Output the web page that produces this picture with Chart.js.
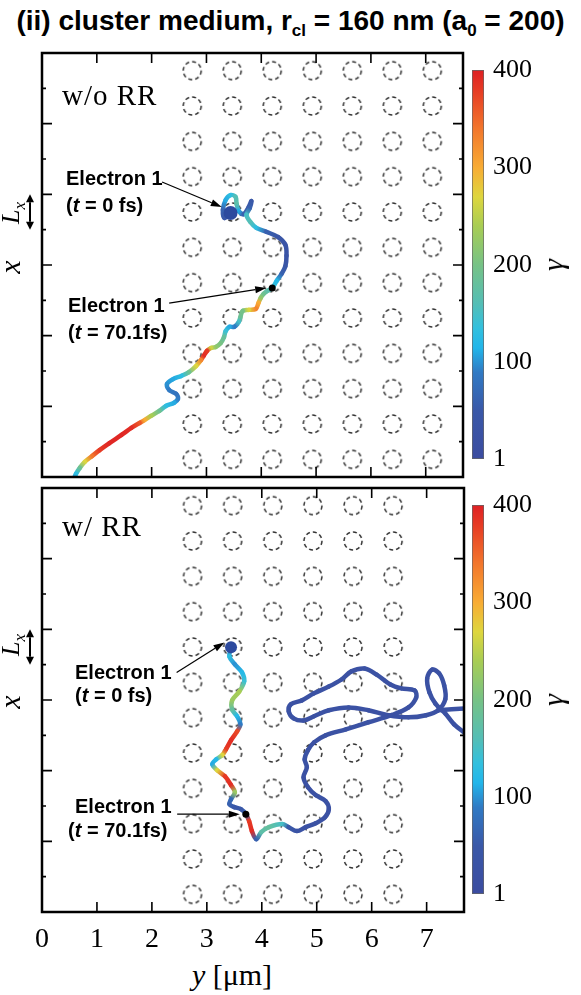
<!DOCTYPE html>
<html lang="en">
<head>
<meta charset="UTF-8">
<title>cluster medium - electron trajectories</title>
<style>
    body { margin: 0; background: #fff; }
    #wrap { position: relative; width: 581px; height: 995px; overflow: hidden; font-family: "Liberation Serif", "Times New Roman", serif; color: #000; }
    canvas { position: absolute; }
    .t { position: absolute; white-space: nowrap; line-height: 1; }
    .title { font-family: "Liberation Sans", Arial, sans-serif; font-weight: bold; font-size: 28px; left: 0; width: 581px; text-align: center; top: 7px; }
    .title sub { font-size: 17px; vertical-align: -6px; line-height: 0; }
    .lbl { font-family: "Liberation Sans", Arial, sans-serif; font-weight: bold; font-size: 20px; }
    .case { font-size: 29px; letter-spacing: 1px; }
    .rot { transform: translate(-50%, -50%) rotate(-90deg); }
    .ax { font-size: 30px; }
</style>
</head>
<body>
<div id="wrap">
    <div class="t title">(ii) cluster medium, r<sub>cl</sub> = 160 nm (a<sub>0</sub> = 200)</div>

    <canvas id="topPanel" width="470" height="450" style="left:0;top:40px"></canvas>
    <canvas id="topBar" width="115" height="450" style="left:466px;top:40px"></canvas>
    <canvas id="botPanel" width="470" height="480" style="left:0;top:475px"></canvas>
    <canvas id="botBar" width="115" height="450" style="left:466px;top:475px"></canvas>

    <div class="t case" style="left:62px;top:81px">w/o RR</div>
    <div class="t case" style="left:62px;top:512px">w/ RR</div>

    <div class="t lbl" style="left:66px;top:168px">Electron 1</div>
    <div class="t lbl" style="left:66px;top:195px">(<i>t</i> = 0 fs)</div>
    <div class="t lbl" style="left:68px;top:295px">Electron 1</div>
    <div class="t lbl" style="left:68px;top:322px">(<i>t</i> = 70.1fs)</div>
    <div class="t lbl" style="left:75px;top:662px">Electron 1</div>
    <div class="t lbl" style="left:75px;top:685px">(<i>t</i> = 0 fs)</div>
    <div class="t lbl" style="left:75px;top:796px">Electron 1</div>
    <div class="t lbl" style="left:68px;top:820px">(<i>t</i> = 70.1fs)</div>

    <div class="t ax rot" style="left:10px;top:267px"><i>x</i></div>
    <div class="t rot" style="left:13px;top:213px;font-size:26px"><i>L<sub style="font-size:17px">x</sub></i></div>
    <div class="t ax rot" style="left:10px;top:702px"><i>x</i></div>
    <div class="t rot" style="left:13px;top:645px;font-size:26px"><i>L<sub style="font-size:17px">x</sub></i></div>

    <div class="t ax rot" style="left:553px;top:265px"><i>γ</i></div>
    <div class="t ax rot" style="left:553px;top:700px"><i>γ</i></div>

    <div class="t ax" style="left:232px;top:960px;transform:translateX(-50%)"><i>y</i> [μm]</div>
</div>

<script src="https://cdn.jsdelivr.net/npm/chart.js@4"></script>
<script>
// axes: horizontal y in um, vertical x in units of L_x
const yRange = [0, 7.68];
const xRange = [0, 12];
const yTickVals = [0, 1, 2, 3, 4, 5, 6, 7];
const xTickVals = [1, 2, 3, 4, 5, 6, 7, 8, 9, 10, 11];

// cluster lattice (centres)
const clusterCols = [2.74, 3.47, 4.20, 4.93, 5.66, 6.39, 7.12];
const clusterRows = [0.5, 1.5, 2.5, 3.5, 4.5, 5.5, 6.5, 7.5, 8.5, 9.5, 10.5, 11.5];

// w/o RR trajectory
const topTrajY = [
    3.44, 3.33, 3.30, 3.35, 3.44, 3.53, 3.55, 3.59, 3.68, 3.77,
    3.82, 3.79, 3.73, 3.80, 3.91, 4.09, 4.31, 4.44, 4.46, 4.44,
    4.37, 4.28, 4.20, 4.11, 4.04, 3.99, 3.95, 3.90, 3.77, 3.66,
    3.62, 3.59, 3.51, 3.42, 3.35, 3.32, 3.26, 3.17, 3.08, 3.01,
    2.95, 2.90, 2.81, 2.68, 2.54, 2.39, 2.28, 2.32, 2.45, 2.48,
    2.41, 2.26, 2.14, 1.99, 1.87, 1.78, 1.63, 1.45, 1.23, 1.05,
    0.91, 0.78, 0.69, 0.62, 0.58
];
const topTrajX = [
    7.47, 7.33, 7.56, 7.84, 7.98, 7.93, 7.73, 7.53, 7.44, 7.64,
    7.81, 7.61, 7.42, 7.22, 7.05, 6.94, 6.79, 6.57, 6.26, 5.97,
    5.75, 5.55, 5.35, 5.27, 5.18, 5.07, 4.93, 4.76, 4.73, 4.70,
    4.53, 4.39, 4.25, 4.25, 4.13, 3.96, 3.79, 3.68, 3.65, 3.57,
    3.43, 3.31, 3.14, 2.97, 2.86, 2.77, 2.63, 2.46, 2.35, 2.21,
    2.10, 2.01, 1.87, 1.73, 1.61, 1.53, 1.39, 1.19, 0.96, 0.76,
    0.59, 0.43, 0.26, 0.09, -0.05
];
const topGamma = [
    40, 50, 60, 110, 130, 160, 170, 110, 60, 50,
    50, 60, 150, 160, 130, 60, 40, 35, 35, 40,
    60, 120, 140, 170, 190, 220, 300, 330, 270, 200,
    190, 150, 90, 110, 140, 180, 200, 220, 260, 380,
    390, 330, 270, 190, 130, 110, 100, 90, 80, 90,
    110, 130, 190, 240, 300, 360, 390, 395, 395, 380,
    340, 270, 190, 130, 100
];

// w/ RR trajectory
const botTrajY = [
    3.44, 3.41, 3.51, 3.64, 3.68, 3.59, 3.46, 3.46, 3.55, 3.61,
    3.55, 3.44, 3.35, 3.28, 3.17, 3.10, 3.19, 3.33, 3.44, 3.51,
    3.44, 3.41, 3.50, 3.62, 3.71, 3.77, 3.82, 3.90, 3.99, 4.13,
    4.37, 4.49, 4.64, 4.80, 4.98, 5.15, 5.22, 5.16, 4.98, 4.84,
    4.76, 4.82, 4.78, 4.84, 4.95, 5.16, 5.53, 5.94, 6.36, 6.67,
    6.81, 6.78, 6.54, 6.34, 6.09, 5.87, 5.63, 5.45, 5.22, 4.95,
    4.73, 4.53, 4.49, 4.58, 4.76, 4.95, 5.22, 5.58, 5.94, 6.30,
    6.67, 6.99, 7.21, 7.34, 7.32, 7.23, 7.10, 7.01, 7.05, 7.16,
    7.34, 7.50, 7.70
];
const botTrajX = [
    7.49, 7.23, 7.01, 6.78, 6.53, 6.24, 5.99, 5.73, 5.54, 5.31,
    5.11, 4.86, 4.61, 4.44, 4.32, 4.18, 4.01, 3.84, 3.59, 3.39,
    3.19, 3.05, 2.97, 2.91, 2.77, 2.57, 2.29, 2.06, 2.26, 2.40,
    2.49, 2.40, 2.29, 2.40, 2.51, 2.68, 2.91, 3.14, 3.31, 3.53,
    3.81, 4.10, 4.32, 4.58, 4.80, 5.00, 5.17, 5.37, 5.57, 5.79,
    6.07, 6.27, 6.33, 6.44, 6.72, 6.89, 6.81, 6.58, 6.38, 6.19,
    5.99, 5.88, 5.68, 5.48, 5.42, 5.54, 5.71, 5.79, 5.71, 5.57,
    5.51, 5.57, 5.71, 6.02, 6.41, 6.75, 6.86, 6.61, 6.22, 5.90,
    5.62, 5.31, 5.06
];
const botGamma = [
    40, 130, 100, 120, 140, 240, 230, 180, 120, 90,
    370, 390, 380, 270, 120, 110, 270, 380, 390, 230,
    70, 60, 50, 50, 60, 380, 390, 60, 170, 180,
    150, 50, 30, 25, 25, 22, 22, 25, 25, 22,
    22, 25, 28, 25, 22, 22, 25, 25, 22, 22,
    25, 25, 22, 22, 25, 25, 22, 22, 25, 25,
    22, 22, 25, 25, 22, 22, 25, 25, 22, 22,
    25, 25, 22, 22, 25, 25, 22, 22, 25, 25,
    22, 22, 25
];
const botBranchY = [7.21, 7.70];
const botBranchX = [5.71, 5.76];
const botBranchGamma = [25, 25];

// electron 1 markers [y, x]
const topStart = [3.44, 7.47];
const topAt70 = [4.20, 5.35];
const botStart = [3.44, 7.49];
const botAt70 = [3.71, 2.77];

// label arrows [y0, x0, y1, x1]
const topArrows = [[2.19, 8.35, 3.28, 7.64], [2.32, 4.92, 4.09, 5.35]];
const botArrows = [[2.45, 6.78, 3.32, 7.63], [2.46, 2.77, 3.60, 2.77]];

// colour bar
const cbRange = [1, 400];
const cbGridVals = [1, 50, 100, 150, 200, 250, 300, 350, 400];
const cbLabels = [1, 100, 200, 300, 400];

const gammaStops = [
    [1, [59, 76, 160]], [50, [58, 88, 168]], [90, [48, 122, 196]], [115, [34, 182, 234]],
    [135, [50, 192, 222]], [160, [84, 190, 182]], [200, [118, 194, 134]], [240, [168, 205, 84]],
    [270, [222, 214, 62]], [300, [248, 172, 52]], [340, [242, 118, 44]], [380, [230, 58, 36]],
    [400, [222, 32, 36]]
];

function gammaColor(g) {
    const s = gammaStops;
    let c = s[s.length - 1][1];
    if (g <= s[0][0]) c = s[0][1];
    else {
        for (let i = 1; i < s.length; i++) {
            if (g <= s[i][0]) {
                const t = (g - s[i - 1][0]) / (s[i][0] - s[i - 1][0]);
                const a = s[i - 1][1], b = s[i][1];
                c = a.map((v, k) => Math.round(v + (b[k] - v) * t));
                break;
            }
        }
    }
    return 'rgb(' + c.join(',') + ')';
}

// dashed circle used as point style for the clusters
const ring = document.createElement('canvas');
ring.width = 22; ring.height = 22;
(function () {
    const c = ring.getContext('2d');
    c.strokeStyle = '#333';
    c.lineWidth = 1.5;
    c.setLineDash([4, 3]);
    c.beginPath();
    c.arc(11, 11, 9, 0, Math.PI * 2);
    c.stroke();
})();

function toPoints(ys, xs) {
    return ys.map((v, i) => ({ x: v, y: xs[i] }));
}

function drawArrow(ctx, x0, y0, x1, y1, head, wid) {
    const ang = Math.atan2(y1 - y0, x1 - x0);
    const bx = x1 - head * Math.cos(ang), by = y1 - head * Math.sin(ang);
    ctx.beginPath();
    ctx.moveTo(x0, y0);
    ctx.lineTo(bx, by);
    ctx.stroke();
    ctx.beginPath();
    ctx.moveTo(x1, y1);
    ctx.lineTo(bx + wid * Math.sin(ang), by - wid * Math.cos(ang));
    ctx.lineTo(bx - wid * Math.sin(ang), by + wid * Math.cos(ang));
    ctx.closePath();
    ctx.fill();
}

const framePlugin = {
    id: 'frame',
    afterDraw(chart, args, opts) {
        const { ctx, chartArea: a, scales: { x, y } } = chart;
        ctx.save();
        ctx.strokeStyle = '#000';
        ctx.fillStyle = '#000';
        ctx.lineWidth = 1.6;
        ctx.beginPath();
        yTickVals.forEach(v => {
            if (v <= yRange[0]) return;
            const px = x.getPixelForValue(v);
            ctx.moveTo(px, a.bottom); ctx.lineTo(px, a.bottom - 10);
            ctx.moveTo(px, a.top); ctx.lineTo(px, a.top + 10);
        });
        xTickVals.forEach(v => {
            const py = y.getPixelForValue(v);
            const len = v % 2 === 0 ? 10 : 4;
            ctx.moveTo(a.left, py); ctx.lineTo(a.left + len, py);
            ctx.moveTo(a.right, py); ctx.lineTo(a.right - len, py);
        });
        ctx.stroke();
        ctx.lineWidth = 2.5;
        ctx.strokeRect(a.left, a.top, a.right - a.left, a.bottom - a.top);

        // L_x double arrow (one tick spacing)
        ctx.lineWidth = 2;
        const ax = a.left - 12, ya = y.getPixelForValue(8), yb = y.getPixelForValue(7);
        const mid = (ya + yb) / 2;
        drawArrow(ctx, ax, mid, ax, ya, 8, 4);
        drawArrow(ctx, ax, mid, ax, yb, 8, 4);

        // label arrows
        ctx.lineWidth = 1.2;
        opts.arrows.forEach(r => {
            drawArrow(ctx, x.getPixelForValue(r[0]), y.getPixelForValue(r[1]),
                x.getPixelForValue(r[2]), y.getPixelForValue(r[3]), 11, 3.5);
        });
        ctx.restore();
    }
};

function trajDataset(ys, xs, gam) {
    return {
        type: 'line',
        data: toPoints(ys, xs),
        borderWidth: 4.5,
        borderCapStyle: 'round',
        borderJoinStyle: 'round',
        pointRadius: 0,
        tension: 0.35,
        order: 1,
        segment: {
            borderColor: c => {
                const g = c.chart.ctx.createLinearGradient(c.p0.x, c.p0.y, c.p1.x, c.p1.y);
                g.addColorStop(0, gammaColor(gam[c.p0DataIndex]));
                g.addColorStop(1, gammaColor(gam[c.p1DataIndex]));
                return g;
            }
        }
    };
}

function makePanel(id, cfg) {
    const clusters = [];
    cfg.cols.forEach(cy => clusterRows.forEach(cx => clusters.push({ x: cy, y: cx })));
    const datasets = [
        { type: 'scatter', data: [{ x: cfg.start[0], y: cfg.start[1] }], pointRadius: cfg.startR, backgroundColor: '#2d4a9e', borderWidth: 0, order: 0 },
        { type: 'scatter', data: [{ x: cfg.at70[0], y: cfg.at70[1] }], pointRadius: 3.5, backgroundColor: '#000', borderWidth: 0, order: 0 },
        ...cfg.trajs.map(t => trajDataset(t[0], t[1], t[2])),
        { type: 'scatter', data: clusters, pointStyle: ring, order: 3 }
    ];
    new Chart(document.getElementById(id), {
        type: 'scatter',
        data: { datasets },
        plugins: [framePlugin],
        options: {
            responsive: false,
            animation: false,
            devicePixelRatio: 1,
            events: [],
            layout: { padding: { left: 42, right: 4, top: 13, bottom: cfg.showX ? 0 : 13 } },
            plugins: { legend: { display: false }, tooltip: { enabled: false }, frame: { arrows: cfg.arrows } },
            scales: {
                x: {
                    type: 'linear', min: yRange[0], max: yRange[1],
                    display: cfg.showX,
                    afterBuildTicks: s => { s.ticks = yTickVals.map(v => ({ value: v })); },
                    afterFit: s => { if (cfg.showX) s.height = 43; },
                    grid: { display: false, drawTicks: false },
                    border: { display: false },
                    ticks: { color: '#000', padding: 11, maxRotation: 0, autoSkip: false,
                        font: { family: '"Liberation Serif", "Times New Roman", serif', size: 28 } }
                },
                y: { type: 'linear', min: xRange[0], max: xRange[1], display: false }
            }
        }
    });
}

function makeColorbar(id) {
    new Chart(document.getElementById(id), {
        type: 'bar',
        data: {
            labels: ['gamma'],
            datasets: [{
                data: [[cbRange[0], cbRange[1]]],
                barPercentage: 1,
                categoryPercentage: 1,
                borderWidth: 1,
                borderColor: '#666',
                borderSkipped: false,
                backgroundColor: c => {
                    const ch = c.chart;
                    if (!ch.chartArea) return '#888';
                    const ys = ch.scales.y;
                    const g = ch.ctx.createLinearGradient(0, ys.getPixelForValue(cbRange[0]), 0, ys.getPixelForValue(cbRange[1]));
                    gammaStops.forEach(s => g.addColorStop((s[0] - cbRange[0]) / (cbRange[1] - cbRange[0]), gammaColor(s[0])));
                    return g;
                }
            }]
        },
        options: {
            responsive: false,
            animation: false,
            devicePixelRatio: 1,
            events: [],
            layout: { padding: { left: 6, top: 30, bottom: 31, right: 0 } },
            plugins: { legend: { display: false }, tooltip: { enabled: false } },
            scales: {
                x: { display: false },
                y: {
                    position: 'right', min: cbRange[0], max: cbRange[1], z: 1,
                    afterBuildTicks: s => { s.ticks = cbGridVals.map(v => ({ value: v })); },
                    afterFit: s => { s.width = 97; },
                    grid: {
                        drawTicks: false,
                        lineWidth: 1.3,
                        color: c => (c.tick && (c.tick.value === cbRange[0] || c.tick.value === cbRange[1])) ? 'rgba(0,0,0,0)' : '#111'
                    },
                    border: { display: false, dash: [3, 2] },
                    ticks: {
                        color: '#000', padding: 9,
                        font: { family: '"Liberation Serif", "Times New Roman", serif', size: 26 },
                        callback: v => cbLabels.includes(v) ? String(v) : ''
                    }
                }
            }
        }
    });
}

makePanel('topPanel', {
    cols: clusterCols, start: topStart, startR: 7, at70: topAt70, arrows: topArrows, showX: false,
    trajs: [[topTrajY, topTrajX, topGamma]]
});
makePanel('botPanel', {
    cols: clusterCols.slice(0, 6), start: botStart, startR: 6, at70: botAt70, arrows: botArrows, showX: true,
    trajs: [[botTrajY, botTrajX, botGamma], [botBranchY, botBranchX, botBranchGamma]]
});
makeColorbar('topBar');
makeColorbar('botBar');
</script>
</body>
</html>
